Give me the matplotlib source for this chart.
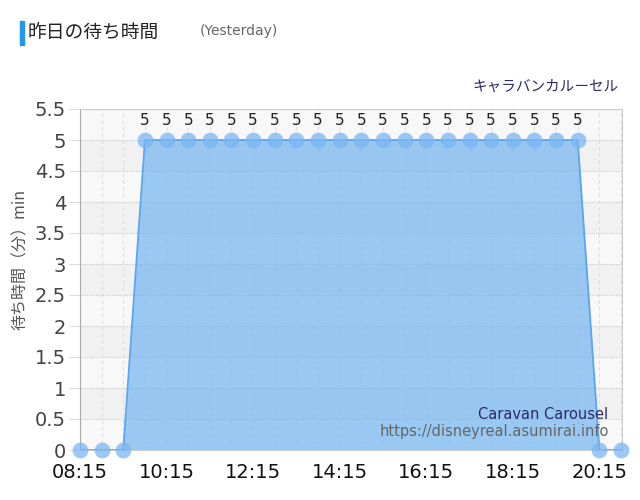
import matplotlib
matplotlib.use("Agg")
import matplotlib.pyplot as plt
import matplotlib.patches as mpatches
import numpy as np

plt.rcParams['font.family'] = ['Noto Sans CJK JP', 'DejaVu Sans']

times = ["08:15", "08:45", "09:15", "09:45", "10:15", "10:45", "11:15", "11:45",
         "12:15", "12:45", "13:15", "13:45", "14:15", "14:45", "15:15", "15:45",
         "16:15", "16:45", "17:15", "17:45", "18:15", "18:45", "19:15", "19:45",
         "20:15", "20:45"]
waits = [0, 0, 0, 5, 5, 5, 5, 5, 5, 5, 5, 5, 5, 5, 5, 5, 5, 5, 5, 5, 5, 5, 5, 5, 0, 0]
tick_labels = ["08:15", "10:15", "12:15", "14:15", "16:15", "18:15", "20:15"]
yticks = [0, 0.5, 1, 1.5, 2, 2.5, 3, 3.5, 4, 4.5, 5, 5.5]

def to_min(s):
    h, m = s.split(":")
    return int(h) * 60 + int(m)

x = np.array([to_min(t) for t in times])
y = np.array(waits)

fig = plt.figure(figsize=(6.4, 5.0), dpi=100)
ax = fig.add_axes([0.125, 0.1, 0.847, 0.682])

ax.set_xlim(x[0], x[-1] + 1.5)
ax.set_ylim(0, 5.5)

# alternating background bands
for i in range(len(yticks) - 1):
    c = '#f8f8f8' if i % 2 == 0 else '#f1f1f1'
    ax.axhspan(yticks[i], yticks[i + 1], color=c, zorder=0, lw=0)

# grid
for yy in yticks:
    ax.axhline(yy, color='#cccccc', lw=0.8, ls=(0, (1, 1)), zorder=1)
for xx in x[1:]:
    ax.axvline(xx, color='#dddddd', lw=0.8, ls=(0, (3, 3)), zorder=1)

ax.fill_between(x, y, 0, color='#7ab8f0', alpha=0.75, lw=0, zorder=2)
ax.plot(x, y, color='#5aa5f2', lw=1.3, zorder=3)
ax.scatter(x, y, s=130, color='#7ab6f3', alpha=0.75, lw=0, zorder=4, clip_on=False)

for xi, yi in zip(x, y):
    if yi > 0:
        ax.text(xi, yi + 0.2, f"{yi}", ha='center', va='bottom', fontsize=11,
                color='#222222', zorder=5, family=['DejaVu Sans'])

ax.set_yticks(yticks)
ax.set_yticklabels([f"{v:g}" for v in yticks], fontsize=14, color='#444444',
                   family=['DejaVu Sans'])
ax.set_xticks([to_min(t) for t in tick_labels])
ax.set_xticklabels(tick_labels, fontsize=14, color='#111111', family=['DejaVu Sans'])
ax.tick_params(axis='y', length=8, color='#dddddd', pad=2)
ax.tick_params(axis='x', length=0, pad=9)

for side in ['top', 'right']:
    ax.spines[side].set_color('#cccccc')
    ax.spines[side].set_linestyle((0, (1, 1)))
ax.spines['left'].set_color('#aaaaaa')
ax.spines['bottom'].set_color('#cccccc')

ax.set_ylabel("待ち時間（分）min", fontsize=11.5, color='#555555')
ax.yaxis.set_label_coords(-0.095, 0.56)

# title
fig.patches.append(mpatches.Rectangle((20 / 640, 1 - 45 / 500), 4 / 640, 24 / 500,
                                      transform=fig.transFigure, color='#2196f3'))
fig.text(28 / 640, 1 - 32 / 500, "昨日の待ち時間", fontsize=13.5, color='#222222', va='center')
fig.text(200 / 640, 1 - 31 / 500, "(Yesterday)", fontsize=10, color='#666666', va='center',
         family=['DejaVu Sans'])
fig.text(619 / 640, 1 - 87 / 500, "キャラバンカルーセル", fontsize=10.5, color='#2a2a6a',
         ha='right', va='center')

ax.text(0.975, 0.103, "Caravan Carousel", transform=ax.transAxes, ha='right', va='center',
        fontsize=10.5, color='#2a2a6a', zorder=6, family=['DejaVu Sans'])
ax.text(0.975, 0.055, "https://disneyreal.asumirai.info", transform=ax.transAxes, ha='right',
        va='center', fontsize=10.5, color='#666666', zorder=6, family=['DejaVu Sans'])

fig.savefig("out.png", dpi=100)
